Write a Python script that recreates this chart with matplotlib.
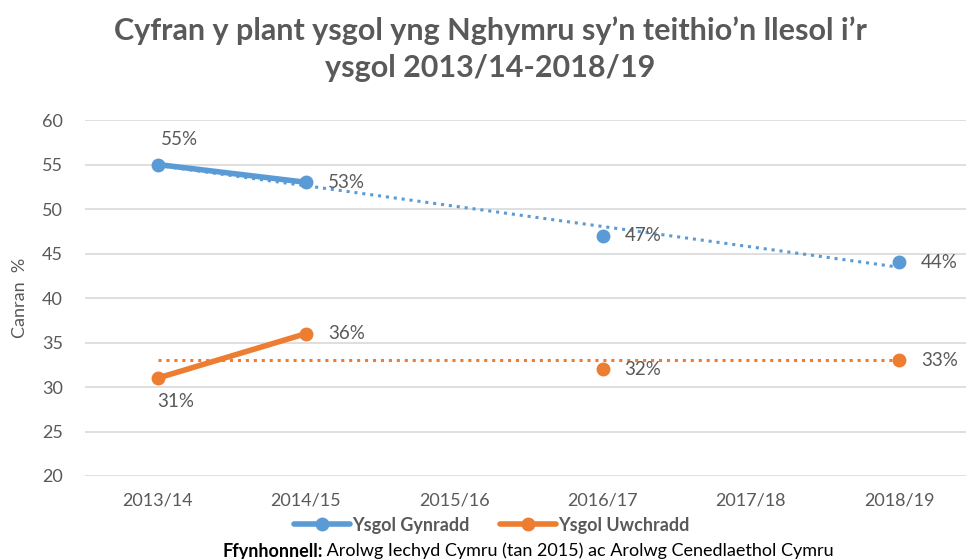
import numpy as np
import matplotlib
matplotlib.use("Agg")
import matplotlib.pyplot as plt

plt.rcParams['font.family'] = ['Lato', 'DejaVu Sans']

# data
years = ["2013/14", "2014/15", "2015/16", "2016/17", "2017/18", "2018/19"]
gynradd = [55, 53, np.nan, 47, np.nan, 44]
uwchradd = [31, 36, np.nan, 32, np.nan, 33]
series_names = ["Ysgol Gynradd", "Ysgol Uwchradd"]

title = "Cyfran y plant ysgol yng Nghymru sy\u2019n teithio\u2019n llesol i\u2019r\nysgol 2013/14-2018/19"
ylabel = "Canran  %"
source_bold = "Ffynhonnell:"
source_rest = " Arolwg Iechyd Cymru (tan 2015) ac Arolwg Cenedlaethol Cymru"

blue = "#5B9BD5"
orange = "#ED7D31"
grey = "#595959"

fig = plt.figure(figsize=(9.66, 5.59), dpi=100)
ax = fig.add_axes([85 / 966, 1 - 476 / 559, (966 - 85) / 966, (476 - 120) / 559])

x = np.arange(len(years))


def draw(vals, color, offsets, name):
    vals = np.array(vals, dtype=float)
    ok = ~np.isnan(vals)
    # linear trend over the available years
    k, b = np.polyfit(x[ok], vals[ok], 1)
    ends = x[[0, -1]]
    ax.plot(ends, k * ends + b, color=color, lw=2.2, linestyle=(0, (1, 1.6)), zorder=2)
    ax.plot(x, vals, color=color, lw=4, marker='o', markersize=9,
            solid_capstyle='round', zorder=3, label=name)
    for i, v in enumerate(vals):
        if np.isnan(v):
            continue
        ax.annotate(f"{v:.0f}%", (i, v), xytext=offsets.get(i, (29, 0)),
                    textcoords='offset points', ha='center', va='center',
                    fontsize=13.5, color=grey, zorder=4)


draw(gynradd, blue, {0: (16, 18)}, series_names[0])
draw(uwchradd, orange, {0: (13, -17)}, series_names[1])

ax.set_xlim(-0.49, 5.45)
ax.set_ylim(20, 60)
ax.set_yticks(range(20, 61, 5))
ax.set_xticks(x)
ax.set_xticklabels(years)
ax.grid(axis='y', color='#D9D9D9', lw=1.2)
ax.set_axisbelow(True)
for s in ax.spines.values():
    s.set_visible(False)
ax.tick_params(axis='y', length=0, pad=16, labelsize=13, labelcolor=grey)
ax.tick_params(axis='x', length=0, pad=12, labelsize=13, labelcolor=grey)

fig.text(20 / 966, 1 - 298 / 559, ylabel, rotation=90, ha='center', va='center',
         fontsize=13, color=grey)

fig.text(490 / 966, 1 - 49 / 559, title, ha='center', va='center', fontsize=22,
         fontweight='bold', color=grey, linespacing=1.4)

leg = fig.legend(loc='center', bbox_to_anchor=(492 / 966, 1 - 525 / 559), ncol=2,
                 frameon=False, handlelength=3.1, handletextpad=0.1,
                 columnspacing=1.7, prop={'size': 13, 'weight': 'bold'})
for t in leg.get_texts():
    t.set_color(grey)

t1 = fig.text(222 / 966, 1 - 551 / 559, source_bold, ha='left', va='center',
              fontsize=13, fontweight='bold', color='black')
ax.annotate(source_rest, xy=(1, 0.5), xycoords=t1, ha='left', va='center',
            fontsize=13, color='black', annotation_clip=False)

fig.savefig("out.png", dpi=100)
